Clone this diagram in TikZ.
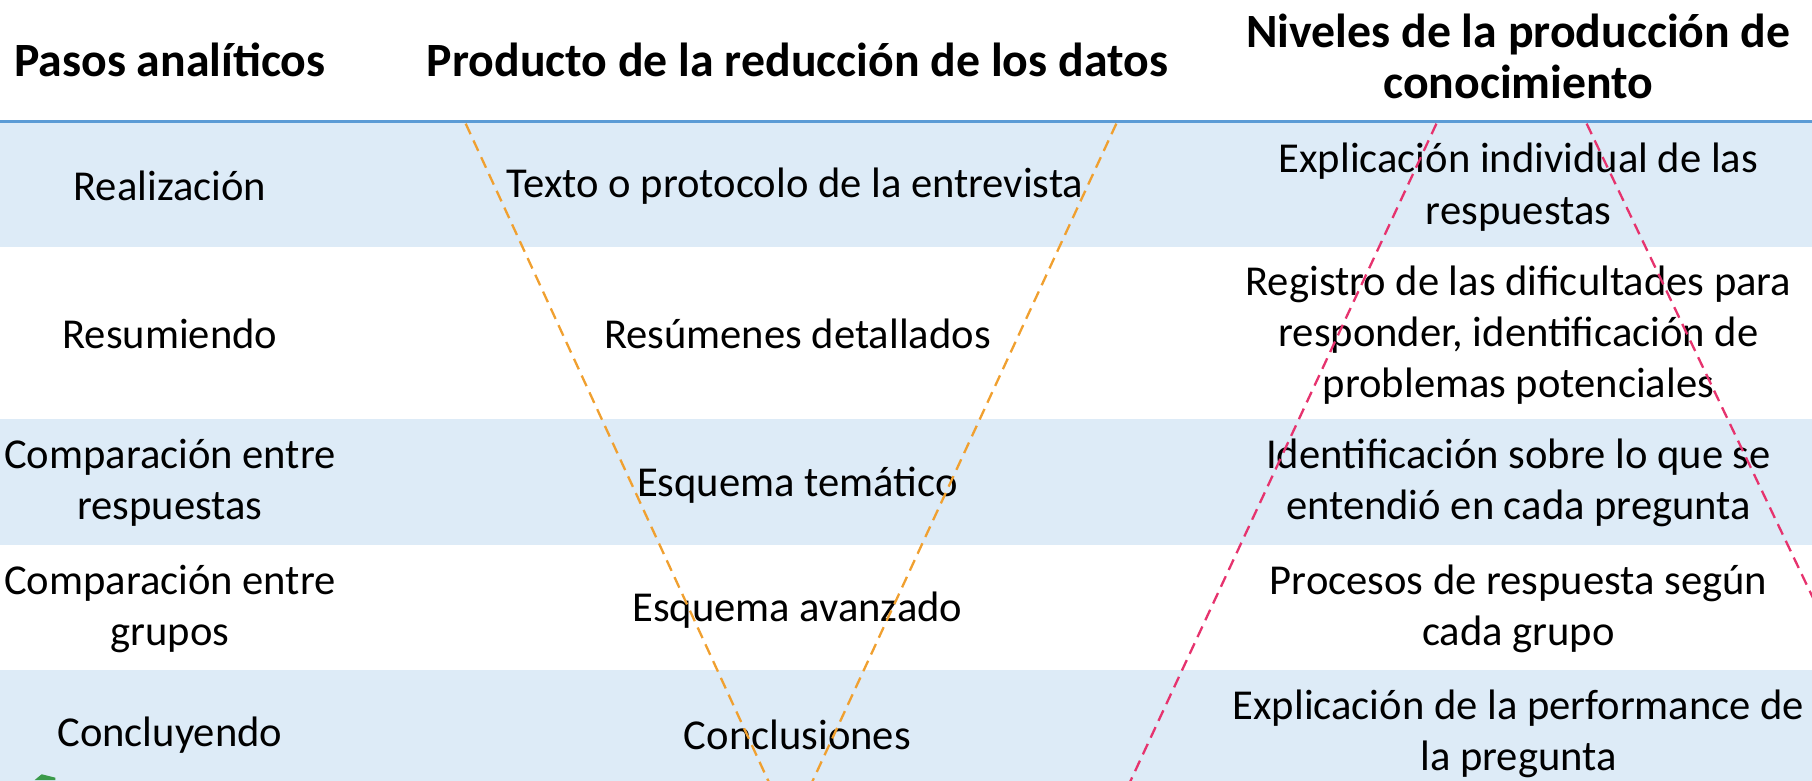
\documentclass[tikz,border=0pt]{standalone}
\usepackage{fontspec}
\setmainfont{Carlito}
\definecolor{rowblue}{HTML}{DDEBF7}
\definecolor{lineblue}{HTML}{5B9BD5}
\definecolor{vorange}{HTML}{F0A030}
\definecolor{vpink}{HTML}{E6336E}
\definecolor{arrgreen}{HTML}{3A9A4A}
\begin{document}
\begin{tikzpicture}[x=1bp,y=-1bp,
  cell/.style={align=center, inner sep=0pt, font=\fontsize{37}{44.5}\selectfont},
  head/.style={align=center, inner sep=0pt, font=\fontsize{41.5}{44}\selectfont\bfseries},
  vline/.style={line width=2bp, dash pattern=on 10bp off 6bp}]
\useasboundingbox (0,0) rectangle (1568,675);
\clip (0,0) rectangle (1568,675);
% row bands
\fill[rowblue] (0,106) rectangle (1568,214);
\fill[rowblue] (0,363) rectangle (1568,472);
\fill[rowblue] (0,580) rectangle (1568,690);
\draw[lineblue, line width=3bp] (0,105) -- (1568,105);
% headers
\node[head] (h1) at (147,52) {Pasos analíticos};
\node[head] (h2) at (690,52) {Producto de la reducción de los datos};
\node[head] (h3) at (1314,49) {Niveles de la producción de\\conocimiento};
% column 1
\node[cell] (a1) at (147,161) {Realización};
\node[cell] (a2) at (147,289) {Resumiendo};
\node[cell] (a3) at (147,418) {Comparación entre\\respuestas};
\node[cell] (a4) at (147,527) {Comparación entre\\grupos};
\node[cell] (a5) at (147,636) {Concluyendo};
% column 2
\node[cell] (b1) at (688,161) {Texto o protocolo de la entrevista};
\node[cell] (b2) at (690,289) {Resúmenes detallados};
\node[cell] (b3) at (690,420) {Esquema temático};
\node[cell] (b4) at (690,528) {Esquema avanzado};
\node[cell] (b5) at (690,636) {Conclusiones};
% column 3
\node[cell] (c1) at (1314,162) {Explicación individual de las\\respuestas};
\node[cell] (c2) at (1314,290) {Registro de las dificultades para\\responder, identificación de\\problemas potenciales};
\node[cell] (c3) at (1314,418) {Identificación sobre lo que se\\entendió en cada pregunta};
\node[cell] (c4) at (1314,527) {Procesos de respuesta según\\cada grupo};
\node[cell] (c5) at (1314,635) {Explicación de la performance de\\la pregunta};
% V lines
\coordinate (oL1) at (403,107);
\coordinate (oL2) at (676,700);
\coordinate (oR1) at (966,107);
\coordinate (oR2) at (692,700);
\coordinate (pL1) at (1243,107);
\coordinate (pL2) at (967,700);
\coordinate (pR1) at (1373,107);
\coordinate (pR2) at (1656,700);
\draw[vline, vorange] (oL1) -- (oL2);
\draw[vline, vorange] (oR1) -- (oR2);
\draw[vline, vpink] (pL1) -- (pL2);
\draw[vline, vpink] (pR1) -- (pR2);
% green arrow tip peeking at bottom-left
\fill[arrgreen] (30,675) -- (36,670) -- (48,673) -- (48,675) -- cycle;
\end{tikzpicture}
\end{document}
